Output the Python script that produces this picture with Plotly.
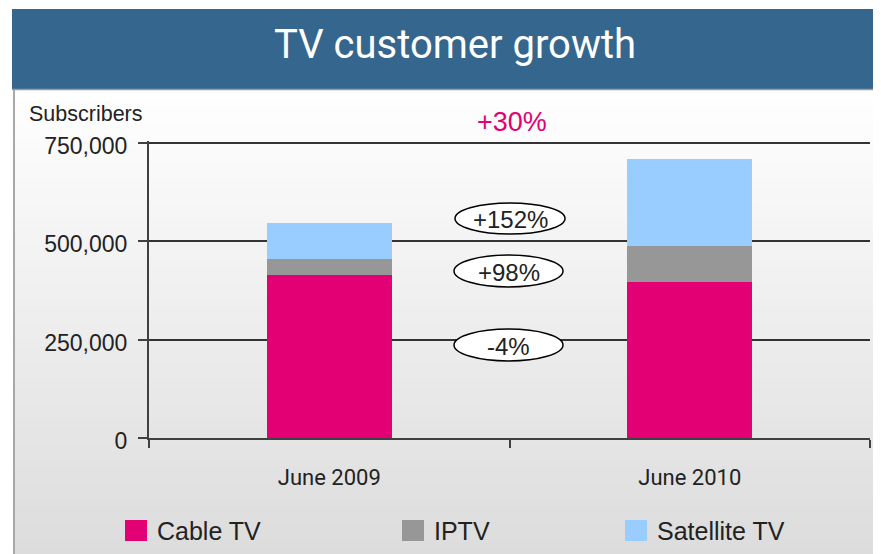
import plotly.graph_objects as go

# ---- data ----
categories = ["June 2009", "June 2010"]
cable_tv = [414000, 396000]
iptv = [41000, 92000]
satellite_tv = [91000, 221000]
series_names = ["Cable TV", "IPTV", "Satellite TV"]
series_colors = ["#E20074", "#979797", "#99CCFF"]
y_ticks = [0, 250000, 500000, 750000]
y_tick_labels = ["0", "250,000", "500,000", "750,000"]
growth_total = "+30%"
growth_labels = ["+152%", "+98%", "-4%"]  # satellite, iptv, cable
title_text = "TV customer growth"
y_title = "Subscribers"

# page offset (browser body margin)
OFF = 8
W, H = 881 - OFF, 554 - OFF
L, R, T, B = 149, 870, 141, 438          # reference pixel frame of the plot area
Y_MAX = 750000 * (B - T) / (B - 143)     # keep 750,000 line 2px below the top


def fx(px):
    return (px - L) / (R - L)


def fy(py):
    return (B - py) / (B - T)


fig = go.Figure()
for name, vals, col in zip(series_names, [cable_tv, iptv, satellite_tv], series_colors):
    fig.add_trace(go.Bar(x=categories, y=vals, name=name, marker_color=col,
                         marker_line_width=0, width=0.347, showlegend=False,
                         hoverinfo="skip"))

shapes = []
# gradient background
top, bot = 90, 554
n = 58
step = (bot - top) / n
for i in range(n):
    y0 = top + i * step
    yc = y0 + step / 2
    v = round(255 - 35 * (yc - top) / (bot - top))
    shapes.append(dict(type="rect", xref="paper", yref="paper", layer="below",
                       x0=fx(15), x1=fx(881), y0=fy(y0 + step + 0.5), y1=fy(y0),
                       line_width=0, fillcolor=f"rgb({v},{v},{v})"))
# title bar
shapes.append(dict(type="rect", xref="paper", yref="paper", layer="below",
                   x0=fx(12), x1=fx(881), y0=fy(89), y1=fy(9),
                   line_width=0, fillcolor="#35668D"))
shapes.append(dict(type="line", xref="paper", yref="paper", layer="below",
                   x0=fx(12), x1=fx(881), y0=fy(89.5), y1=fy(89.5),
                   line=dict(color="#9A9A9A", width=1.5)))
# left frame line
shapes.append(dict(type="line", xref="paper", yref="paper", layer="below",
                   x0=fx(14), x1=fx(14), y0=fy(90), y1=fy(554),
                   line=dict(color="#A8A8A8", width=2)))

annotations = []
# ellipses with growth labels
ell = [(455, 565, 203, 234), (454, 563, 255, 287), (454, 563, 329, 361)]
for (x0, x1, y0, y1), lab in zip(ell, growth_labels):
    shapes.append(dict(type="circle", xref="paper", yref="paper", layer="above",
                       x0=fx(x0), x1=fx(x1), y0=fy(y1), y1=fy(y0),
                       fillcolor="white", line=dict(color="black", width=1.5)))
    annotations.append(dict(xref="paper", yref="paper", x=fx((x0 + x1) / 2),
                            y=fy((y0 + y1) / 2 + 1), text=lab, showarrow=False,
                            xanchor="center", yanchor="middle",
                            font=dict(family="Liberation Sans", size=24, color="#222222")))

# legend (custom, large square swatches)
leg_x = [125, 402, 625]
for x, name, col in zip(leg_x, series_names, series_colors):
    shapes.append(dict(type="rect", xref="paper", yref="paper", layer="above",
                       x0=fx(x), x1=fx(x + 22), y0=fy(541), y1=fy(520),
                       fillcolor=col, line_width=0))
    annotations.append(dict(xref="paper", yref="paper", x=fx(x + 30), y=fy(531),
                            text=name, showarrow=False, xanchor="left", yanchor="middle",
                            font=dict(family="Liberation Sans", size=25, color="#222222")))

# title
annotations.append(dict(xref="paper", yref="paper", x=fx(455), y=fy(44), text=title_text,
                        showarrow=False, xanchor="center", yanchor="middle",
                        font=dict(family="Roboto", size=40, color="white")))
# axis title
annotations.append(dict(xref="paper", yref="paper", x=fx(27), y=fy(114), text=y_title,
                        showarrow=False, xanchor="left", yanchor="middle",
                        font=dict(family="Liberation Sans", size=21.5, color="#222222")))
# total growth
annotations.append(dict(xref="paper", yref="paper", x=fx(512), y=fy(122), text=growth_total,
                        showarrow=False, xanchor="center", yanchor="middle",
                        font=dict(family="Liberation Sans", size=27, color="#E20074")))

fig.update_layout(
    width=W, height=H,
    margin=dict(l=L - OFF, r=881 - R, t=T - OFF, b=554 - B, pad=0),
    paper_bgcolor="white", plot_bgcolor="rgba(0,0,0,0)",
    barmode="stack",
    shapes=shapes, annotations=annotations,
    showlegend=False,
)
fig.update_xaxes(range=[-0.5, 1.5], showline=True, linecolor="#404040", linewidth=2,
                 ticks="outside", tickson="boundaries", ticklen=8, tickwidth=2,
                 tickcolor="#404040", showgrid=False, ticklabelstandoff=19,
                 tickfont=dict(family="Roboto", size=22, color="#222222"))
fig.update_yaxes(range=[0, Y_MAX], tickvals=y_ticks, ticktext=y_tick_labels,
                 showline=True, linecolor="#404040", linewidth=2,
                 ticks="outside", ticklen=9, tickwidth=2, tickcolor="#404040",
                 showgrid=True, gridcolor="#333333", gridwidth=2, zeroline=False,
                 ticklabelstandoff=6, ticklabelshift=3,
                 tickfont=dict(family="Liberation Sans", size=23, color="#222222"))

fig.write_html("out.html")
